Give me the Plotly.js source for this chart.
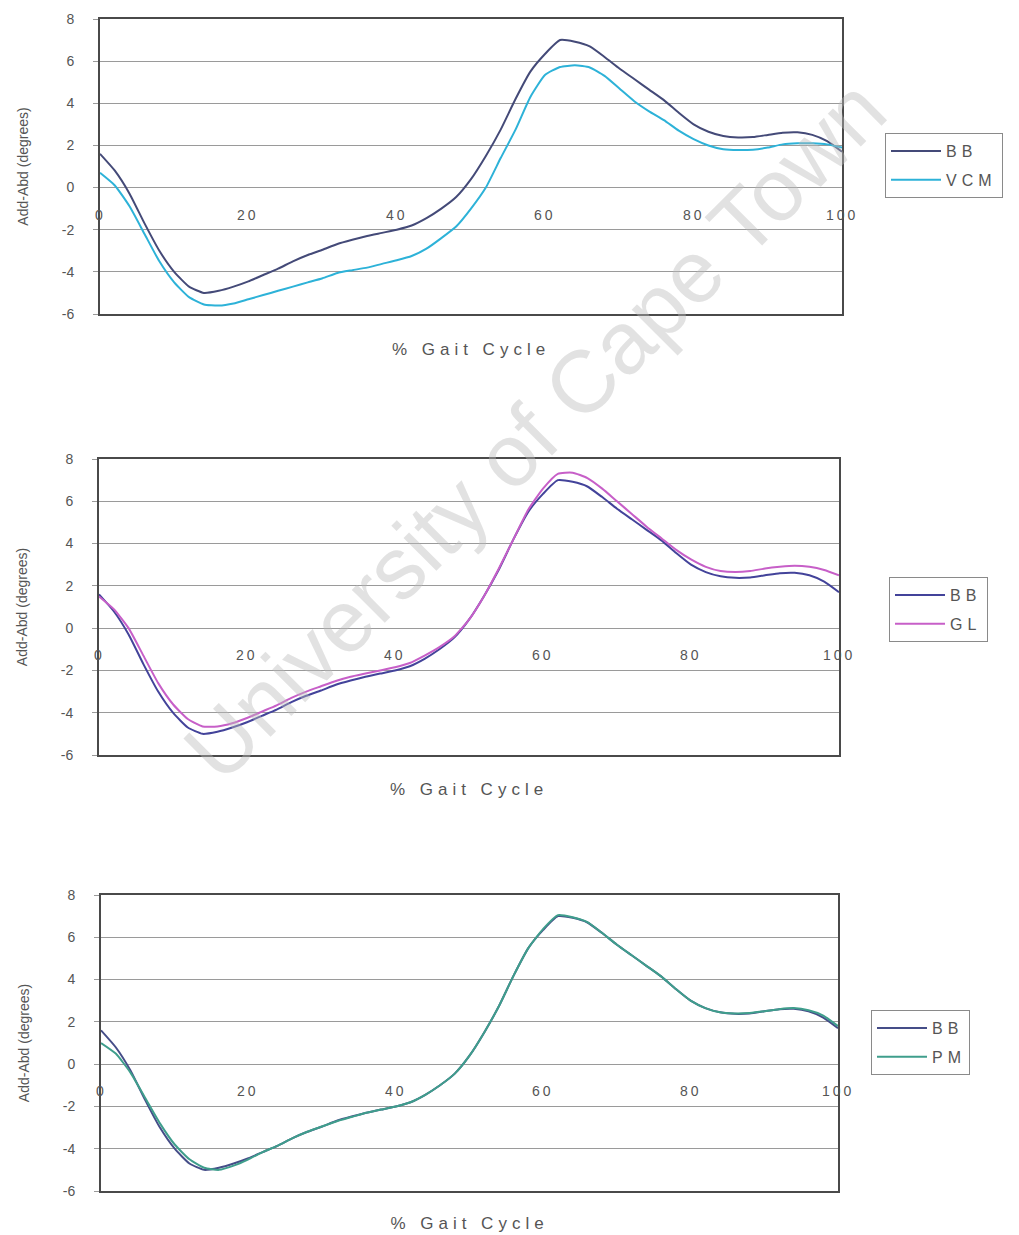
<!DOCTYPE html>
<html>
<head>
<meta charset="utf-8">
<script src="https://cdn.plot.ly/plotly-3.0.1.min.js"></script>
<style>
  html, body { margin: 0; padding: 0; background: #fff; }
  #chart { width: 1019px; height: 1235px; }
  .legendtext, [class^="legend"] text { letter-spacing: 5px; }
  .xtitle, .x2title, .x3title { letter-spacing: 5px; }
  .annotation-text { letter-spacing: 3px; }
  .annotation[data-index="0"] .annotation-text { letter-spacing: 0; }
</style>
</head>
<body>
<div id="chart"></div>
<script>
// Percent of gait cycle
const pct = [0, 2, 4, 6, 8, 10, 12, 14, 16, 18, 20, 22, 24, 26, 28, 30, 32, 34, 36, 38, 40,
             42, 44, 46, 48, 50, 52, 54, 56, 58, 60, 62, 64, 66, 68, 70, 72, 74, 76, 78, 80,
             82, 84, 86, 88, 90, 92, 94, 96, 98, 100];

// Hip adduction-abduction (degrees) for each model
const bb  = [1.6, 0.8, -0.3, -1.7, -3.0, -4.0, -4.7, -5.0, -4.9, -4.7, -4.45, -4.15, -3.85, -3.5, -3.2,
             -2.95, -2.68, -2.48, -2.3, -2.15, -2.0, -1.8, -1.45, -1.0, -0.45, 0.4, 1.5, 2.75, 4.2, 5.5,
             6.35, 7.0, 6.92, 6.7, 6.2, 5.65, 5.15, 4.65, 4.15, 3.55, 3.0, 2.65, 2.45, 2.38, 2.4, 2.5,
             2.6, 2.62, 2.5, 2.2, 1.7];
const vcm = [0.7, 0.1, -0.9, -2.2, -3.5, -4.5, -5.2, -5.55, -5.6, -5.5, -5.3, -5.1, -4.9, -4.7, -4.5,
             -4.3, -4.05, -3.92, -3.8, -3.62, -3.45, -3.25, -2.9, -2.4, -1.85, -1.0, 0.0, 1.4, 2.75, 4.3,
             5.35, 5.72, 5.8, 5.7, 5.3, 4.7, 4.1, 3.62, 3.2, 2.7, 2.3, 2.0, 1.82, 1.78, 1.8, 1.9,
             2.05, 2.1, 2.1, 2.05, 1.9];
const gl  = [1.5, 0.9, 0.0, -1.3, -2.6, -3.6, -4.3, -4.65, -4.65, -4.5, -4.25, -3.95, -3.65, -3.3, -3.0,
             -2.75, -2.5, -2.3, -2.15, -2.0, -1.85, -1.65, -1.3, -0.9, -0.4, 0.4, 1.5, 2.8, 4.2, 5.6,
             6.6, 7.3, 7.35, 7.1, 6.6, 6.0, 5.4, 4.8, 4.25, 3.7, 3.25, 2.9, 2.7, 2.65, 2.7, 2.82,
             2.9, 2.95, 2.9, 2.75, 2.5];
const pm  = [1.0, 0.5, -0.4, -1.6, -2.8, -3.8, -4.5, -4.9, -5.0, -4.8, -4.5, -4.15, -3.85, -3.5, -3.2,
             -2.95, -2.7, -2.5, -2.3, -2.15, -2.0, -1.8, -1.45, -1.0, -0.45, 0.4, 1.5, 2.75, 4.2, 5.5,
             6.4, 7.05, 6.95, 6.72, 6.2, 5.65, 5.15, 4.65, 4.15, 3.55, 3.0, 2.65, 2.45, 2.4, 2.42, 2.5,
             2.6, 2.65, 2.55, 2.3, 1.8];

// Axis labels
const xTickVals = [0, 20, 40, 60, 80, 100];
const xTickText = ['0', '20', '40', '60', '80', '100'];
const yTickVals = [-6, -4, -2, 0, 2, 4, 6, 8];
const yTickText = ['-6', '-4', '-2', '0', '2', '4', '6', '8'];
const xTitle = '% Gait Cycle';
const yTitle = 'Add-Abd (degrees)';

const FONT = 'Liberation Sans, Arial, sans-serif';

function line(y, name, color, ax, legend) {
  return {
    x: pct, y: y, name: name, type: 'scatter', mode: 'lines',
    line: { color: color, width: 2, shape: 'spline', smoothing: 0.5 },
    xaxis: 'x' + ax, yaxis: 'y' + ax, legend: legend, legendgroup: name + ax
  };
}

const traces = [
  line(bb,  'BB',  '#444a78', '',  'legend'),
  line(vcm, 'VCM', '#2db2d8', '',  'legend'),
  line(bb,  'BB',  '#43439a', '2', 'legend2'),
  line(gl,  'GL',  '#c75fc8', '2', 'legend2'),
  line(bb,  'BB',  '#454d88', '3', 'legend3'),
  line(pm,  'PM',  '#3f9e8c', '3', 'legend3')
];

function xAxis(domain, anchor, standoff) {
  return {
    domain: domain, anchor: anchor, range: [0, 100],
    showgrid: false, zeroline: false, showticklabels: false, ticks: '',
    showline: true, mirror: true, linecolor: '#4a4a4a', linewidth: 2,
    title: { text: xTitle, font: { size: 17, color: '#555', family: FONT }, standoff: standoff },
    automargin: false, fixedrange: true
  };
}
function yAxis(domain, anchor) {
  return {
    domain: domain, anchor: anchor, range: [-6, 8],
    tickvals: yTickVals, ticktext: yTickText,
    showgrid: true, gridcolor: '#9a9a9a', gridwidth: 1, zeroline: false,
    ticks: 'outside', ticklen: 5, tickcolor: '#9a9a9a', ticklabelstandoff: 16,
    tickfont: { size: 14, color: '#555', family: FONT },
    showline: true, mirror: true, linecolor: '#4a4a4a', linewidth: 2,
    title: { text: yTitle, font: { size: 14, color: '#555', family: FONT }, standoff: 30 },
    automargin: false, fixedrange: true
  };
}
function legendBox(x, y) {
  return {
    x: x, y: y, xanchor: 'left', yanchor: 'top',
    bgcolor: '#fff', bordercolor: '#8a8a8a', borderwidth: 1,
    font: { size: 16, color: '#555', family: FONT },
    traceorder: 'grouped', tracegroupgap: 5, itemwidth: 50
  };
}

// X tick labels sit just under the zero line of each panel
const annotations = [{
  text: 'University of Cape Town', xref: 'paper', yref: 'paper',
  x: 535 / 1019, y: 1 - 430 / 1235, xanchor: 'center', yanchor: 'middle',
  textangle: -45, showarrow: false,
  font: { size: 88, color: 'rgba(185,185,185,0.42)', family: FONT }
}];
['', '2', '3'].forEach(function (ax) {
  xTickVals.forEach(function (v, i) {
    annotations.push({
      text: xTickText[i], x: v, y: 0, xref: 'x' + ax, yref: 'y' + ax,
      xanchor: 'center', yanchor: 'middle', yshift: -27, showarrow: false,
      font: { size: 14, color: '#555', family: FONT }
    });
  });
});

const layout = {
  width: 1019, height: 1235,
  margin: { l: 0, r: 0, t: 0, b: 0 },
  paper_bgcolor: '#fff', plot_bgcolor: '#fff',
  font: { family: FONT, color: '#555' },
  showlegend: true,
  xaxis:  xAxis([100 / 1019, 842 / 1019], 'y', 28),
  yaxis:  yAxis([1 - 314 / 1235, 1 - 19 / 1235], 'x'),
  xaxis2: xAxis([99 / 1019, 839 / 1019], 'y2', 27),
  yaxis2: yAxis([1 - 755 / 1235, 1 - 459 / 1235], 'x2'),
  xaxis3: xAxis([101 / 1019, 838 / 1019], 'y3', 25),
  yaxis3: yAxis([1 - 1191 / 1235, 1 - 895 / 1235], 'x3'),
  legend:  legendBox(885 / 1019, 1 - 133 / 1235),
  legend2: legendBox(889 / 1019, 1 - 577 / 1235),
  legend3: legendBox(871 / 1019, 1 - 1010 / 1235),
  annotations: annotations
};

Plotly.newPlot('chart', traces, layout, { displayModeBar: false, staticPlot: true });
</script>
</body>
</html>
